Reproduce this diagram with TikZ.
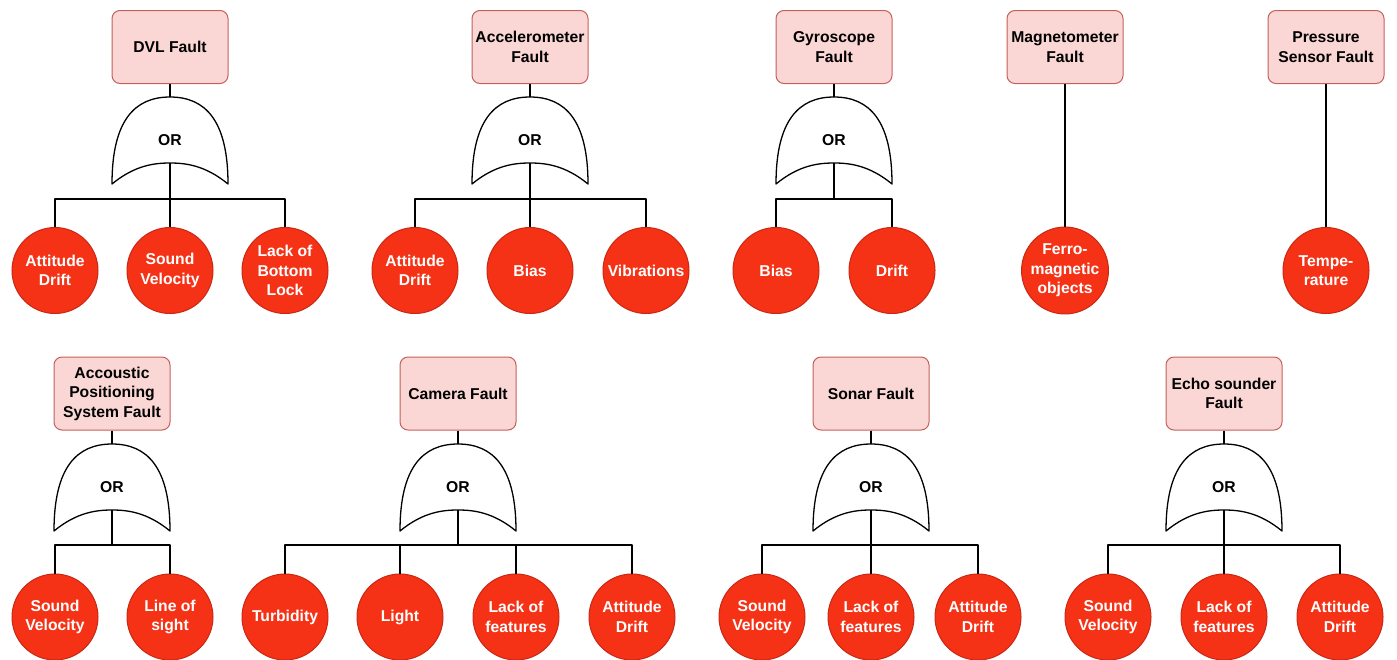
\documentclass[tikz,border=0pt]{standalone}
\usepackage{fontspec}
\setmainfont{Liberation Sans}
\usetikzlibrary{calc}
\definecolor{circfill}{RGB}{245,50,22}
\definecolor{circstroke}{RGB}{200,40,20}
\definecolor{boxfill}{RGB}{250,215,213}
\definecolor{boxstroke}{RGB}{196,96,90}
\newcommand\dfont{\fontsize{15.7pt}{19.5pt}\selectfont\bfseries}
\tikzset{
  faultbox/.style={draw=boxstroke, fill=boxfill, rounded corners=8pt, minimum width=116pt, minimum height=73pt, align=center, font=\dfont, line width=1pt, inner sep=1pt},
  event/.style={circle, draw=circstroke, fill=circfill, minimum size=86pt, inner sep=0pt, align=center, text=white, font=\dfont, line width=1pt},
  gatetext/.style={minimum width=116pt, minimum height=87pt, inner sep=0pt, font=\dfont},
  wire/.style={line width=1.3pt, line join=round}
}
\newcommand\orgate[2]{%
  \node[gatetext] (#1) at (#2) {OR};
  \draw[wire] ([shift={(-58pt,-43.5pt)}]#1.center)
     .. controls +(0,64pt) and +(-35pt,0) .. ([shift={(0,43.5pt)}]#1.center)
     .. controls +(35pt,0) and +(0,64pt) .. ([shift={(58pt,-43.5pt)}]#1.center)
     .. controls +(-23pt,19pt) and +(15pt,0) .. ([shift={(0,-22.5pt)}]#1.center)
     .. controls +(-15pt,0) and +(23pt,19pt) .. cycle;
  \coordinate (#1o) at ([yshift=-22.5pt]#1.center);
}
\begin{document}
\begin{tikzpicture}[x=1pt,y=-1pt]
\useasboundingbox (0,0) rectangle (1397,659);

% ---------- Row 1 ----------
% DVL
\node[faultbox] (dvl) at (170,47) {DVL Fault};
\orgate{gdvl}{170,140.5}
\node[event] (dvl1) at (55,270.5) {Attitude\\Drift};
\node[event] (dvl2) at (170,270.5) {Sound\\Velocity};
\node[event] (dvl3) at (285,270.5) {Lack of\\Bottom\\Lock};
\coordinate (jdvl) at (170,199);
\draw[wire] (dvl) -- (gdvl);
\draw[wire] (gdvlo) -- (jdvl) -- (dvl2);
\draw[wire] (dvl1) |- (jdvl) -| (dvl3);

% Accelerometer
\node[faultbox] (acc) at (530,47) {Accelerometer\\Fault};
\orgate{gacc}{530,140.5}
\node[event] (acc1) at (415,270.5) {Attitude\\Drift};
\node[event] (acc2) at (530,270.5) {Bias};
\node[event] (acc3) at (646,270.5) {Vibrations};
\coordinate (jacc) at (530,199);
\draw[wire] (acc) -- (gacc);
\draw[wire] (gacco) -- (jacc) -- (acc2);
\draw[wire] (acc1) |- (jacc) -| (acc3);

% Gyroscope
\node[faultbox] (gyr) at (834,47) {Gyroscope\\Fault};
\orgate{ggyr}{834,140.5}
\node[event] (gyr1) at (776,270.5) {Bias};
\node[event] (gyr2) at (892,270.5) {Drift};
\coordinate (jgyr) at (834,199);
\draw[wire] (gyr) -- (ggyr);
\draw[wire] (ggyro) -- (jgyr);
\draw[wire] (gyr1) |- (jgyr) -| (gyr2);

% Magnetometer
\node[faultbox] (mag) at (1065,47) {Magnetometer\\Fault};
\node[event] (mag1) at (1065,270.5) {Ferro-\\magnetic\\objects};
\draw[wire] (mag) -- (mag1);

% Pressure
\node[faultbox] (pre) at (1326,47) {Pressure\\Sensor Fault};
\node[event] (pre1) at (1326,270.5) {Tempe-\\rature};
\draw[wire] (pre) -- (pre1);

% ---------- Row 2 ----------
% Acoustic positioning
\node[faultbox] (aps) at (112,393.5) {Accoustic\\Positioning\\System Fault};
\orgate{gaps}{112,487.5}
\node[event] (aps1) at (55,617) {Sound\\Velocity};
\node[event] (aps2) at (170,617) {Line of\\sight};
\coordinate (japs) at (112,545);
\draw[wire] (aps) -- (gaps);
\draw[wire] (gapso) -- (japs);
\draw[wire] (aps1) |- (japs) -| (aps2);

% Camera
\node[faultbox] (cam) at (458,393.5) {Camera Fault};
\orgate{gcam}{458,487.5}
\node[event] (cam1) at (285,617) {Turbidity};
\node[event] (cam2) at (400,617) {Light};
\node[event] (cam3) at (516,617) {Lack of\\features};
\node[event] (cam4) at (632,617) {Attitude\\Drift};
\coordinate (jcam) at (458,545);
\draw[wire] (cam) -- (gcam);
\draw[wire] (gcamo) -- (jcam);
\draw[wire] (cam1) |- (jcam) -| (cam4);
\draw[wire] (cam2) -- (cam2 |- jcam);
\draw[wire] (cam3) -- (cam3 |- jcam);

% Sonar
\node[faultbox] (son) at (871,393.5) {Sonar Fault};
\orgate{gson}{871,487.5}
\node[event] (son1) at (762,617) {Sound\\Velocity};
\node[event] (son2) at (871,617) {Lack of\\features};
\node[event] (son3) at (978,617) {Attitude\\Drift};
\coordinate (json) at (871,545);
\draw[wire] (son) -- (gson);
\draw[wire] (gsono) -- (json) -- (son2);
\draw[wire] (son1) |- (json) -| (son3);

% Echo sounder
\node[faultbox] (ech) at (1224,393.5) {Echo sounder\\Fault};
\orgate{gech}{1224,487.5}
\node[event] (ech1) at (1108,617) {Sound\\Velocity};
\node[event] (ech2) at (1224,617) {Lack of\\features};
\node[event] (ech3) at (1340,617) {Attitude\\Drift};
\coordinate (jech) at (1224,545);
\draw[wire] (ech) -- (gech);
\draw[wire] (gecho) -- (jech) -- (ech2);
\draw[wire] (ech1) |- (jech) -| (ech3);
\end{tikzpicture}
\end{document}
